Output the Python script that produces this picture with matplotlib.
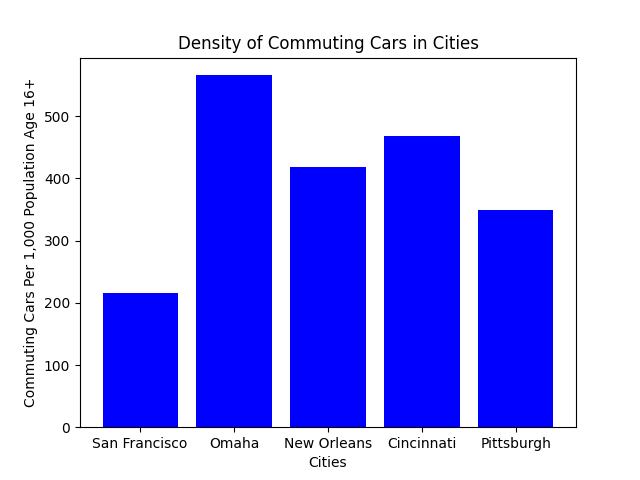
import matplotlib
matplotlib.use("Agg")
import matplotlib.pyplot as plt

# data
cities = ["San Francisco", "Omaha", "New Orleans", "Cincinnati", "Pittsburgh"]
cars_per_1000 = [215, 566, 418, 468, 350]

plt.figure(figsize=(6.4, 4.8), dpi=100)
plt.bar(cities, cars_per_1000, color="blue")
plt.title("Density of Commuting Cars in Cities")
plt.xlabel("Cities")
plt.ylabel("Commuting Cars Per 1,000 Population Age 16+")
plt.savefig("out.png")
